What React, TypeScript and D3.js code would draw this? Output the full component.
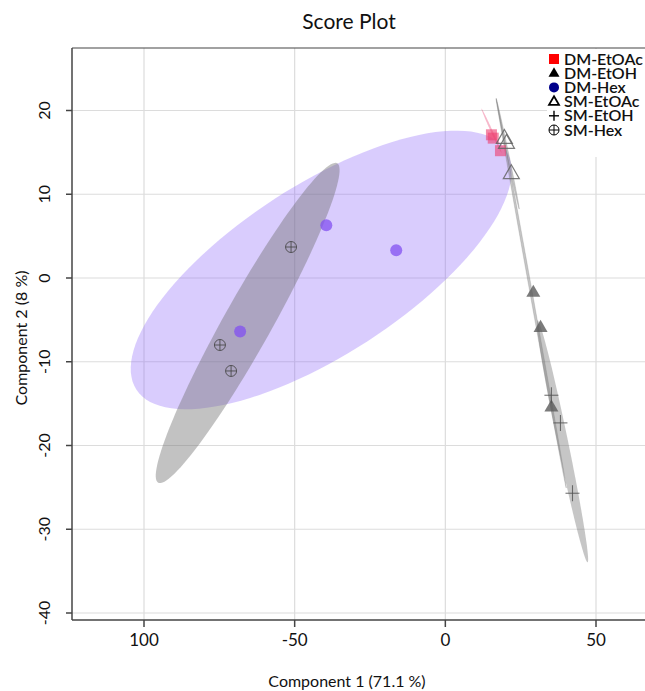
import React from "react";
import * as d3 from "d3";

const W = 645;
const H = 691;

// ---- data ----
const xTickValues = [-100, -50, 0, 50];
const xTickLabels = ["100", "-50", "0", "50"];
const yTickValues = [20, 10, 0, -10, -20, -30, -40];
const yTickLabels = ["20", "10", "0", "-10", "-20", "-30", "-40"];

const dmEtOAc = [[15.3, 17.1], [15.9, 16.7], [18.3, 15.2]];
const dmEtOH = [[29.2, -1.7], [31.6, -5.9], [35.2, -15.4]];
const dmHex = [[-39.5, 6.3], [-16.3, 3.3], [-68.1, -6.4]];
const smEtOAc = [[19.6, 16.7], [20.3, 16.1], [21.9, 12.5]];
const smEtOH = [[35.2, -14.0], [38.2, -17.3], [42.2, -25.7]];
const smHex = [[-51.2, 3.7], [-74.8, -8.0], [-71.1, -11.1]];

// confidence ellipses: center, half-axis vector u, half-axis vector v (data units)
const ellipseDmHex = { c: [-41.2, 0.96], u: [61.3, 14.3], v: [15.4, -8.5] };
const ellipseSmHex = { c: [-65.6, -5.37], u: [29.7, 19.07], v: [6.96, -1.4] };
const ellipseDmEtOAc = { c: [15.3, 17.6], u: [3.32, -2.63], v: [0.3, 0.05] };
const ellipseSmEtOAc = { c: [20.7, 14.8], u: [3.82, -6.57], v: [0.33, 0.024] };
const ellipseDmEtOH = { c: [28.5, -1.8], u: [11.63, -23.28], v: [0.39, 0.025] };
const ellipseSmEtOH = { c: [38.9, -19.5], u: [8.31, -14.45], v: [1.75, 0.12] };

const legendLabels = ["DM-EtOAc", "DM-EtOH", "DM-Hex", "SM-EtOAc", "SM-EtOH", "SM-Hex"];

const FONT = "Lato, 'Open Sans', sans-serif";

export default function App() {
  const x = d3.scaleLinear().domain([-100, 50]).range([144, 596]);
  const y = d3.scaleLinear().domain([-40, 20]).range([613, 110.5]);

  const left = 72, top = 48, bottom = 620, right = W;

  const ellipsePath = (e: any) => {
    const pts = d3.range(0, 120).map((i) => {
      const t = (i / 120) * Math.PI * 2;
      return [
        x(e.c[0] + e.u[0] * Math.cos(t) + e.v[0] * Math.sin(t)),
        y(e.c[1] + e.u[1] * Math.cos(t) + e.v[1] * Math.sin(t)),
      ] as [number, number];
    });
    return d3.line().curve(d3.curveLinearClosed)(pts) || "";
  };

  const tri = (cx: number, cy: number, s: number) => {
    const h = s * 0.87;
    return `M${cx},${cy - h * 0.62}L${cx + s / 2},${cy + h * 0.38}L${cx - s / 2},${cy + h * 0.38}Z`;
  };

  const legendY0 = 59;
  const legendDy = 14.2;

  return (
    <svg width={W} height={H} style={{ position: "absolute", left: 0, top: 0, background: "#fff" }}>
      <defs>
        <clipPath id="plot">
          <rect x={left} y={top} width={right - left} height={bottom - top} />
        </clipPath>
      </defs>
      <text x={349} y={29} textAnchor="middle" fontFamily={FONT} fontSize={21} fill="#111">
        Score Plot
      </text>

      {/* grid */}
      {xTickValues.map((v) => (
        <line key={"gx" + v} x1={x(v)} x2={x(v)} y1={top} y2={bottom} stroke="#dcdcdc" strokeWidth={1.2} />
      ))}
      {yTickValues.map((v) => (
        <line key={"gy" + v} x1={left} x2={right} y1={y(v)} y2={y(v)} stroke="#dcdcdc" strokeWidth={1.2} />
      ))}

      <g clipPath="url(#plot)">
        <path d={ellipsePath(ellipseDmHex)} fill="rgba(140,100,250,0.33)" />
        <path d={ellipsePath(ellipseSmHex)} fill="rgba(110,110,110,0.42)" />
        <path d={ellipsePath(ellipseDmEtOAc)} fill="rgba(232,51,107,0.35)" />
        <path d={ellipsePath(ellipseSmEtOAc)} fill="rgba(110,110,110,0.4)" stroke="rgba(120,120,120,0.4)" strokeWidth={0.6} />
        <path d={ellipsePath(ellipseDmEtOH)} fill="rgba(110,110,110,0.4)" stroke="rgba(120,120,120,0.4)" strokeWidth={0.6} />
        <path d={ellipsePath(ellipseSmEtOH)} fill="rgba(120,120,120,0.42)" />

        {dmEtOAc.map((p, i) => (
          <rect key={"a" + i} x={x(p[0]) - 5.5} y={y(p[1]) - 5.5} width={11} height={11} fill="rgba(236,60,110,0.6)" />
        ))}
        {dmHex.map((p, i) => (
          <circle key={"c" + i} cx={x(p[0])} cy={y(p[1])} r={6} fill="rgba(130,80,240,0.75)" />
        ))}
        {dmEtOH.map((p, i) => (
          <path key={"b" + i} d={tri(x(p[0]), y(p[1]), 14)} fill="rgba(90,90,90,0.8)" />
        ))}
        {smEtOAc.map((p, i) => (
          <path key={"d" + i} d={tri(x(p[0]), y(p[1]), 16)} fill="none" stroke="rgba(100,100,100,0.85)" strokeWidth={1.2} />
        ))}
        {smEtOH.map((p, i) => (
          <g key={"e" + i} stroke="rgba(80,80,80,0.8)" strokeWidth={1.1}>
            <line x1={x(p[0]) - 7} x2={x(p[0]) + 7} y1={y(p[1])} y2={y(p[1])} />
            <line x1={x(p[0])} x2={x(p[0])} y1={y(p[1]) - 8} y2={y(p[1]) + 8} />
          </g>
        ))}
        {smHex.map((p, i) => (
          <g key={"f" + i} stroke="rgba(70,70,70,0.85)" strokeWidth={1} fill="none">
            <circle cx={x(p[0])} cy={y(p[1])} r={5.5} />
            <line x1={x(p[0]) - 5.5} x2={x(p[0]) + 5.5} y1={y(p[1])} y2={y(p[1])} />
            <line x1={x(p[0])} x2={x(p[0])} y1={y(p[1]) - 5.5} y2={y(p[1]) + 5.5} />
          </g>
        ))}
      </g>

      {/* frame */}
      <line x1={left} x2={right} y1={top} y2={top} stroke="#444" strokeWidth={1.2} />
      <line x1={left} x2={left} y1={top} y2={bottom} stroke="#444" strokeWidth={1.5} />
      <line x1={left} x2={right} y1={bottom} y2={bottom} stroke="#444" strokeWidth={1.5} />

      {/* ticks */}
      {xTickValues.map((v, i) => (
        <g key={"tx" + v}>
          <line x1={x(v)} x2={x(v)} y1={bottom} y2={bottom + 7} stroke="#444" strokeWidth={1.5} />
          <text x={x(v)} y={646} textAnchor="middle" fontFamily={FONT} fontSize={17} fill="#111">
            {xTickLabels[i]}
          </text>
        </g>
      ))}
      {yTickValues.map((v, i) => (
        <g key={"ty" + v}>
          <line x1={left - 6} x2={left} y1={y(v)} y2={y(v)} stroke="#444" strokeWidth={1.5} />
          <text
            transform={`translate(${50},${y(v)}) rotate(-90)`}
            textAnchor="middle"
            fontFamily={FONT}
            fontSize={16}
            fill="#111"
          >
            {yTickLabels[i]}
          </text>
        </g>
      ))}

      <text x={347} y={687} textAnchor="middle" fontFamily={FONT} fontSize={16} fill="#111">
        Component 1 (71.1 %)
      </text>
      <text transform={`translate(${27},${338}) rotate(-90)`} textAnchor="middle" fontFamily={FONT} fontSize={16} fill="#111">
        Component 2 (8 %)
      </text>

      {/* legend */}
      <rect x={547} y={top + 1} width={W - 547} height={108} fill="#fff" />
      {legendLabels.map((lab, i) => {
        const ly = legendY0 + i * legendDy;
        const mx = 554;
        let marker: any = null;
        if (i === 0) marker = <rect x={mx - 5} y={ly - 5} width={10} height={10} fill="#ff0000" />;
        if (i === 1) marker = <path d={tri(mx, ly, 11)} fill="#000" />;
        if (i === 2) marker = <circle cx={mx} cy={ly} r={5} fill="#00008b" />;
        if (i === 3) marker = <path d={tri(mx, ly, 10)} fill="none" stroke="#000" strokeWidth={1.8} />;
        if (i === 4)
          marker = (
            <g stroke="#000" strokeWidth={1.4}>
              <line x1={mx - 5} x2={mx + 5} y1={ly} y2={ly} />
              <line x1={mx} x2={mx} y1={ly - 5} y2={ly + 5} />
            </g>
          );
        if (i === 5)
          marker = (
            <g stroke="#000" strokeWidth={1} fill="none">
              <circle cx={mx} cy={ly} r={5} />
              <line x1={mx - 5} x2={mx + 5} y1={ly} y2={ly} />
              <line x1={mx} x2={mx} y1={ly - 5} y2={ly + 5} />
            </g>
          );
        return (
          <g key={lab}>
            {marker}
            <text x={564} y={ly + 5.5} fontFamily={FONT} fontSize={16} fontWeight={600} fill="#111">
              {lab}
            </text>
          </g>
        );
      })}
    </svg>
  );
}
